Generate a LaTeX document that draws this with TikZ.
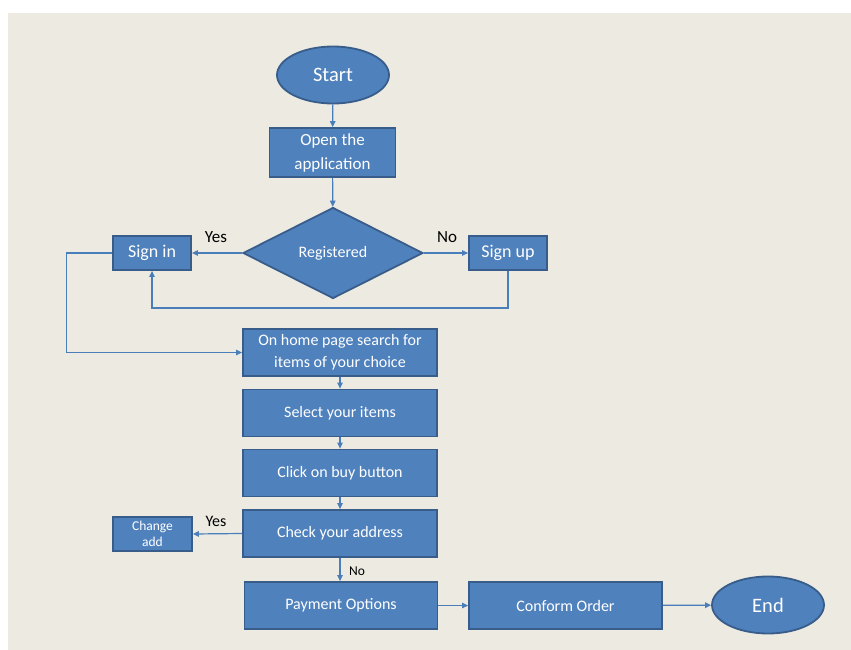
\documentclass[tikz,border=0pt]{standalone}
\usepackage{fontspec}
\setmainfont{Carlito}
\usetikzlibrary{shapes.geometric,arrows.meta}
\definecolor{bgc}{HTML}{EDEAE2}
\definecolor{boxfill}{HTML}{4F81BD}
\definecolor{boxline}{HTML}{385D8A}
\definecolor{conn}{HTML}{4A7EBB}
\tikzset{
  box/.style={rectangle,draw=boxline,fill=boxfill,line width=1.8pt,text=white,
    inner sep=1pt,align=center,font=\fontsize{16}{22}\selectfont},
  oval/.style={ellipse,draw=boxline,fill=boxfill,line width=1.8pt,text=white,
    inner sep=0pt,font=\fontsize{20.5}{24}\selectfont},
  dia/.style={diamond,draw=boxline,fill=boxfill,line width=1.8pt,text=white,
    inner sep=0pt,font=\fontsize{16}{19}\selectfont},
  arr/.style={draw=conn,line width=1.2pt,-{Triangle[length=6pt,width=5.5pt]}},
  lbl/.style={text=black,inner sep=0pt}
}
\begin{document}
\begin{tikzpicture}[x=1pt,y=-1pt]
\useasboundingbox (0,0) rectangle (851,650);
\fill[white] (0,0) rectangle (851,650);
\fill[bgc] (8,13) rectangle (851,650);

\node[oval,minimum width=112pt,minimum height=57pt] (start) at (333,75) {Start};
\node[box,minimum width=126pt,minimum height=49pt,font=\fontsize{17}{24}\selectfont] (open) at (332.5,152.5) {Open the\\application};
\node[dia,minimum width=180pt,minimum height=91pt] (reg) at (333,253) {Registered};
\node[box,minimum width=78pt,minimum height=34pt,font=\fontsize{18}{21}\selectfont] (signin) at (152,253) {Sign in};
\node[box,minimum width=78pt,minimum height=34pt,font=\fontsize{18}{21}\selectfont] (signup) at (508,253) {Sign up};
\node[box,minimum width=194pt,minimum height=47pt] (home) at (340,352.5) {On home page search for\\items of your choice};
\node[box,minimum width=194pt,minimum height=47pt] (select) at (340,413) {Select your items};
\node[box,minimum width=194pt,minimum height=47pt] (click) at (340,473) {Click on buy button};
\node[box,minimum width=194pt,minimum height=47pt] (check) at (340,533.5) {Check your address};
\node[box,minimum width=79pt,minimum height=34pt,font=\fontsize{13.5}{16}\selectfont] (change) at (152.5,534) {Change\\add};
\node[box,minimum width=193pt,minimum height=47pt] (pay) at (341,605.5) {Payment Options};
\node[box,minimum width=193pt,minimum height=47pt] (conform) at (565.5,605.5) {Conform Order};
\node[oval,minimum width=112pt,minimum height=57pt] (end) at (768,605) {End};

\node[lbl,font=\fontsize{17}{20}\selectfont] (yes1) at (216,237) {Yes};
\node[lbl,font=\fontsize{17}{20}\selectfont] (no1) at (447,237) {No};
\node[lbl,font=\fontsize{16}{19}\selectfont] (yes2) at (216,521) {Yes};
\node[lbl,font=\fontsize{13.5}{16}\selectfont] (no2) at (357,571) {No};

\draw[arr] (start) -- (open);
\draw[arr] (open) -- (reg);
\draw[arr] (reg.west) -- (signin.east);
\draw[arr] (reg.east) -- (signup.west);
\draw[arr] (signup.south) -- ++(0,37) -| (signin.south);
\draw[arr] (signin.west) -- ++(-46,0) |- (home.west);
\draw[arr] (home) -- (select);
\draw[arr] (select) -- (click);
\draw[arr] (click) -- (check);
\draw[arr] (check.west) -- (change.east);
\draw[arr] (check.south) -- (check.south |- pay.north);
\draw[arr] (pay) -- (conform);
\draw[arr] (conform) -- (end);
\end{tikzpicture}
\end{document}
